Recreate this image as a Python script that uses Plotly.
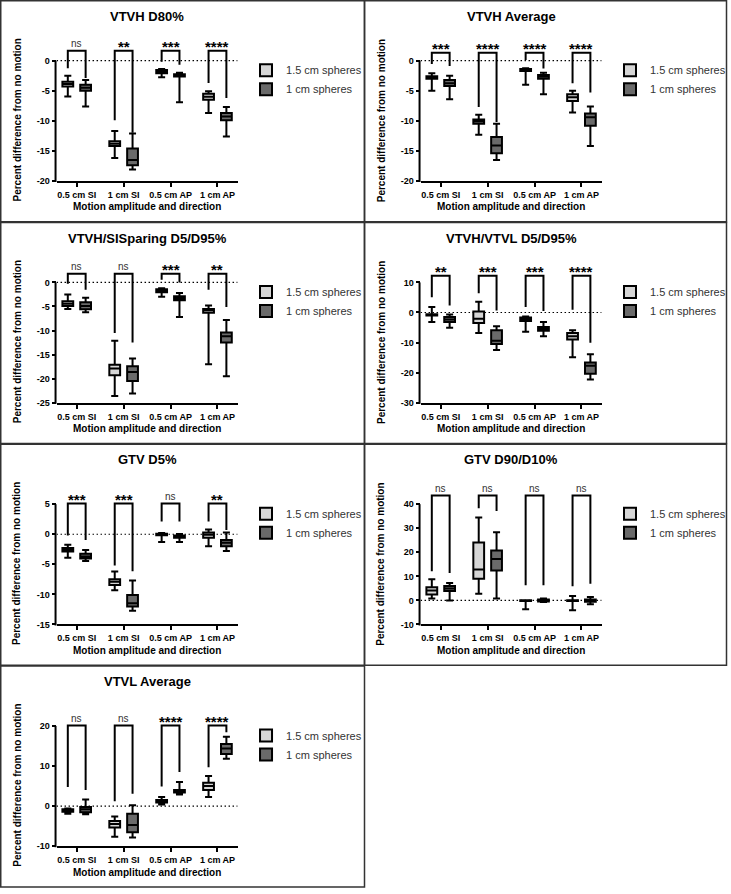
import plotly.graph_objects as go

W, H = 731, 894

CATS = ["0.5 cm SI", "1 cm SI", "0.5 cm AP", "1 cm AP"]
SERIES = ["1.5 cm spheres", "1 cm spheres"]
FILLS = ["#d6d6d6", "#6a6a6a"]

# each tuple: (lower whisker, Q1, median, Q3, upper whisker) per motion category
VTVH_D80_15 = [(-5.95, -4.3, -3.9, -3.5, -2.5), (-16.2, -14.2, -13.8, -13.4, -11.7),
               (-2.75, -2.1, -1.8, -1.55, -1.4), (-8.7, -6.5, -6.0, -5.5, -5.1)]
VTVH_D80_10 = [(-7.6, -5.0, -4.5, -4.0, -3.2), (-18.1, -17.4, -16.5, -14.6, -12.1),
               (-6.9, -2.65, -2.5, -2.25, -2.0), (-12.6, -9.9, -9.3, -8.7, -7.7)]
VTVH_D80_SIG = ["ns", "**", "***", "****"]
VTVH_D80_LEGS = [(-1.27, -2.9), (-9.9, -12.0), (-0.17, -0.7), (-3.7, -6.2)]
VTVH_D80_TOP = 1.65
VTVH_D80_TICKS = [-20, -15, -10, -5, 0]

VTVH_AVG_15 = [(-5.0, -3.0, -2.8, -2.6, -2.1), (-12.3, -10.5, -10.1, -9.8, -9.0),
               (-4.0, -1.7, -1.6, -1.4, -1.27), (-8.6, -6.7, -6.1, -5.6, -5.0)]
VTVH_AVG_10 = [(-6.4, -4.2, -3.75, -3.2, -2.5), (-16.5, -15.4, -14.1, -12.7, -10.5),
               (-5.6, -3.0, -2.65, -2.4, -2.0), (-14.2, -10.8, -9.4, -8.8, -7.6)]
VTVH_AVG_SIG = ["***", "****", "****", "****"]
VTVH_AVG_LEGS = [(-0.55, -0.9), (-7.7, -10.2), (0.1, -1.3), (-3.75, -5.3)]
VTVH_AVG_TOP = 1.3
VTVH_AVG_TICKS = [-20, -15, -10, -5, 0]

SISP_15 = [(-5.5, -4.9, -4.45, -3.9, -2.5), (-23.6, -19.3, -17.9, -17.1, -12.1),
           (-3.0, -2.05, -1.7, -1.4, -1.2), (-17.0, -6.3, -5.8, -5.5, -4.8)]
SISP_10 = [(-6.2, -5.6, -4.9, -4.1, -3.2), (-23.1, -20.5, -18.6, -17.4, -15.8),
           (-7.2, -3.7, -3.3, -2.9, -2.2), (-19.5, -12.5, -11.2, -10.4, -7.8)]
SISP_SIG = ["ns", "ns", "***", "**"]
SISP_LEGS = [(-0.27, -1.5), (-10.5, -12.5), (0.55, 0.0), (-1.5, -5.1)]
SISP_TOP = 1.8
SISP_TICKS = [-25, -20, -15, -10, -5, 0]

VTVL_D5_15 = [(-3.2, -1.0, -0.8, -0.6, 1.8), (-6.8, -3.5, -2.05, 0.35, 3.6),
              (-6.4, -2.8, -2.3, -1.7, -1.3), (-14.9, -9.0, -7.9, -6.8, -5.9)]
VTVL_D5_10 = [(-5.1, -3.2, -2.3, -1.5, -0.7), (-12.5, -10.5, -9.4, -5.9, -4.6),
              (-7.9, -6.1, -5.45, -4.8, -3.2), (-22.3, -20.4, -17.7, -16.6, -13.9)]
VTVL_D5_SIG = ["**", "***", "***", "****"]
VTVL_D5_LEGS = [(5.1, 2.3), (6.4, 0.7), (1.8, 0.5), (0.9, -10.1)]
VTVL_D5_TOP = 12.2
VTVL_D5_TICKS = [-30, -20, -10, 0, 10]

GTV_D5_15 = [(-3.9, -2.85, -2.6, -2.3, -1.75), (-9.3, -8.45, -7.9, -7.5, -6.2),
             (-1.3, -0.15, 0.0, 0.1, 0.2), (-2.0, -0.6, -0.1, 0.3, 0.8)]
GTV_D5_10 = [(-4.45, -4.05, -3.7, -3.25, -2.6), (-12.7, -12.0, -11.45, -10.1, -7.7),
             (-1.3, -0.6, -0.4, -0.2, 0.05), (-2.8, -2.0, -1.4, -0.95, 0.3)]
GTV_D5_SIG = ["***", "***", "ns", "**"]
GTV_D5_LEGS = [(-0.2, -0.95), (-5.2, -6.15), (2.1, 2.1), (2.1, 0.7)]
GTV_D5_TOP = 5.1
GTV_D5_TICKS = [-15, -10, -5, 0, 5]

GTV_D90_15 = [(0.8, 2.5, 4.1, 5.5, 8.8), (2.8, 9.0, 12.8, 24.1, 34.5),
              (-3.7, -0.2, 0.0, 0.1, 0.1), (-4.1, -0.2, 0.0, 0.1, 1.8)]
GTV_D90_10 = [(0.0, 3.9, 5.0, 6.0, 7.2), (0.8, 12.4, 17.2, 20.7, 28.3),
              (-0.7, -0.4, 0.0, 0.4, 0.8), (-1.6, -0.5, 0.0, 0.4, 1.4)]
GTV_D90_SIG = ["ns", "ns", "ns", "ns"]
GTV_D90_LEGS = [(12.1, 11.4), (38.3, 37.2), (6.3, 6.3), (5.9, 6.9)]
GTV_D90_TOP = 43.6
GTV_D90_TICKS = [-10, 0, 10, 20, 30, 40]

VTVL_AVG_15 = [(-1.9, -1.4, -1.05, -0.75, -0.6), (-7.65, -5.35, -4.45, -3.7, -2.6),
               (0.4, 0.9, 1.2, 1.5, 2.3), (2.3, 4.0, 5.0, 5.85, 7.5)]
VTVL_AVG_10 = [(-2.0, -1.55, -0.8, -0.2, 1.65), (-7.8, -6.5, -4.7, -1.9, 0.25),
               (2.9, 3.4, 3.7, 4.0, 6.0), (11.8, 13.0, 14.4, 15.5, 17.3)]
VTVL_AVG_SIG = ["ns", "ns", "****", "****"]
VTVL_AVG_LEGS = [(4.8, 4.0), (1.2, 3.1), (4.9, 8.5), (9.7, 18.4)]
VTVL_AVG_TOP = 20.1
VTVL_AVG_TICKS = [-10, 0, 10, 20]

PANELS = [
    ("VTVH D80%", VTVH_D80_15, VTVH_D80_10, VTVH_D80_SIG, VTVH_D80_LEGS, VTVH_D80_TOP, VTVH_D80_TICKS),
    ("VTVH Average", VTVH_AVG_15, VTVH_AVG_10, VTVH_AVG_SIG, VTVH_AVG_LEGS, VTVH_AVG_TOP, VTVH_AVG_TICKS),
    ("VTVH/SISparing D5/D95%", SISP_15, SISP_10, SISP_SIG, SISP_LEGS, SISP_TOP, SISP_TICKS),
    ("VTVH/VTVL D5/D95%", VTVL_D5_15, VTVL_D5_10, VTVL_D5_SIG, VTVL_D5_LEGS, VTVL_D5_TOP, VTVL_D5_TICKS),
    ("GTV D5%", GTV_D5_15, GTV_D5_10, GTV_D5_SIG, GTV_D5_LEGS, GTV_D5_TOP, GTV_D5_TICKS),
    ("GTV D90/D10%", GTV_D90_15, GTV_D90_10, GTV_D90_SIG, GTV_D90_LEGS, GTV_D90_TOP, GTV_D90_TICKS),
    ("VTVL Average", VTVL_AVG_15, VTVL_AVG_10, VTVL_AVG_SIG, VTVL_AVG_LEGS, VTVL_AVG_TOP, VTVL_AVG_TICKS),
]

# ---- layout constants (pixels) ----
FONT = "Liberation Sans, Arial, sans-serif"
ROW_H = 223
COL_X = [0.75, 365.5, 728.5]
AX_LEFT = [56.7, 421.7]
AX_W = 181.6
XR = [-0.43, 3.43]
TICK_TOP, TICK_BOT, DOM_TOP = 61, 182, 34
OFF = 0.19        # half distance between paired boxes (category units)
BOX_W = 0.23      # box width (category units)


def fx(px):
    return px / W


def fy(py):
    return 1 - py / H


fig = go.Figure()
layout = dict(
    width=W, height=H, autosize=False,
    margin=dict(l=0, r=0, t=0, b=0),
    paper_bgcolor="white", plot_bgcolor="rgba(0,0,0,0)",
    boxmode="overlay",
    font=dict(family=FONT, color="black"),
)
shapes, annotations = [], []

for k, (title, s15, s10, sig, legs, top, ticks) in enumerate(PANELS):
    row, col = divmod(k, 2)
    rt = row * ROW_H
    sfx = "" if k == 0 else str(k + 1)
    xa, ya = "x" + sfx, "y" + sfx
    lg = "legend" + sfx
    ymin, ymax = min(ticks), max(ticks)
    extra = (ymax - ymin) * (TICK_BOT - DOM_TOP - (TICK_BOT - TICK_TOP)) / (TICK_BOT - TICK_TOP)
    x0 = AX_LEFT[col]

    for sgn, name, stats, fill in zip((-1, 1), SERIES, (s15, s10), FILLS):
        fig.add_trace(go.Box(
            x=[i + sgn * OFF for i in range(len(CATS))],
            lowerfence=[s[0] for s in stats], q1=[s[1] for s in stats],
            median=[s[2] for s in stats], q3=[s[3] for s in stats],
            upperfence=[s[4] for s in stats],
            width=BOX_W,
            name=name, fillcolor=fill, line=dict(color="black", width=2),
            whiskerwidth=0.65, boxpoints=False, xaxis=xa, yaxis=ya,
            legend=lg, hoverinfo="skip",
        ))

    # significance brackets
    for i, (lab, (yl, yr)) in enumerate(zip(sig, legs)):
        fig.add_trace(go.Scatter(
            x=[i - OFF, i - OFF, i + OFF, i + OFF], y=[yl, top, top, yr],
            mode="lines", line=dict(color="black", width=2),
            showlegend=False, hoverinfo="skip", xaxis=xa, yaxis=ya,
        ))
        is_ns = lab == "ns"
        annotations.append(dict(
            x=i, y=top, xref=xa, yref=ya, text=lab, showarrow=False,
            xanchor="center", yanchor="bottom", yshift=0 if is_ns else -6.5,
            font=dict(family=FONT, size=10 if is_ns else 15,
                      color="#333333" if is_ns else "black",
                      weight="normal" if is_ns else "bold"),
        ))

    layout["xaxis" + sfx] = dict(
        domain=[fx(x0), fx(x0 + AX_W)], anchor=ya, range=XR,
        tickvals=list(range(len(CATS))), ticktext=CATS,
        showline=True, linecolor="black", linewidth=2,
        ticks="outside", ticklen=4, tickwidth=1.5, tickcolor="black",
        showgrid=False, zeroline=False, fixedrange=True,
        tickfont=dict(family=FONT, size=9, color="black", weight="bold"),
    )
    layout["yaxis" + sfx] = dict(
        domain=[fy(rt + TICK_BOT), fy(rt + DOM_TOP)], anchor=xa,
        range=[ymin, ymax + extra],
        tickvals=ticks, ticktext=[str(t) for t in ticks],
        showline=False, ticks="outside", ticklen=4, tickwidth=1.5, tickcolor="black",
        showgrid=False, zeroline=False, fixedrange=True,
        tickfont=dict(family=FONT, size=9, color="black", weight="bold"),
    )
    layout[lg] = dict(
        x=fx(x0 + 190), y=fy(rt + 56), xanchor="left", yanchor="top",
        bgcolor="rgba(0,0,0,0)", borderwidth=0,
        font=dict(family=FONT, size=11, color="#333333"),
    )

    # y axis line (stops at the top tick) and dotted zero reference
    shapes.append(dict(type="line", xref="paper", yref="paper",
                       x0=fx(x0 - 1), x1=fx(x0 - 1), y0=fy(rt + TICK_BOT + 1), y1=fy(rt + TICK_TOP),
                       line=dict(color="black", width=2)))
    shapes.append(dict(type="line", xref=xa, yref=ya, x0=XR[0], x1=XR[1], y0=0, y1=0,
                       layer="below", line=dict(color="black", width=1.2, dash="1.5px,2.5px")))
    # panel frame
    shapes.append(dict(type="rect", xref="paper", yref="paper",
                       x0=fx(COL_X[col]), x1=fx(COL_X[col + 1]),
                       y0=fy(min(rt + ROW_H, H - 1.5)), y1=fy(rt + 0.75),
                       line=dict(color="#333333", width=1.5)))

    cx = x0 + AX_W / 2
    annotations.append(dict(x=fx(cx), y=fy(rt + 16.5), xref="paper", yref="paper",
                            text=title, showarrow=False, xanchor="center", yanchor="middle",
                            font=dict(family=FONT, size=13, weight="bold")))
    annotations.append(dict(x=fx(cx), y=fy(rt + 208), xref="paper", yref="paper",
                            text="Motion amplitude and direction", showarrow=False,
                            xanchor="center", yanchor="middle",
                            font=dict(family=FONT, size=10, weight="bold")))
    annotations.append(dict(x=fx(COL_X[col] + 16.5), y=fy(rt + 121), xref="paper", yref="paper",
                            text="Percent difference from no motion", showarrow=False,
                            textangle=-90, xanchor="center", yanchor="middle",
                            font=dict(family=FONT, size=10, weight="bold")))

layout["shapes"] = shapes
layout["annotations"] = annotations
fig.update_layout(**layout)
fig.write_html("out.html")
